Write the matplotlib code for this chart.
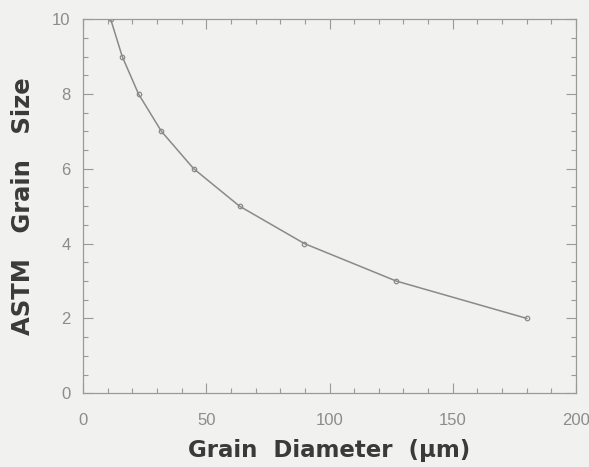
import matplotlib
matplotlib.use("Agg")
import matplotlib.pyplot as plt
from matplotlib.ticker import MultipleLocator

diameter_um = [11.2, 15.9, 22.5, 31.8, 44.9, 63.5, 89.8, 127.0, 180.0]
astm_size = [10, 9, 8, 7, 6, 5, 4, 3, 2]
x_ticks = [0, 50, 100, 150, 200]
y_ticks = [0, 2, 4, 6, 8, 10]

plt.rcParams['font.family'] = ['Liberation Sans', 'DejaVu Sans']
bg = '#f1f1f0'
fig = plt.figure(figsize=(5.89, 4.67), dpi=100, facecolor=bg)
ax = fig.add_axes([0.141, 0.158, 0.837, 0.801], facecolor=bg)

ax.plot(diameter_um, astm_size, color='#8a8a8a', lw=1.1, marker='o', ms=3.2,
        mfc='none', mec='#8a8a8a', mew=0.9)

ax.set_xlim(0, 200)
ax.set_ylim(0, 10)
ax.set_xticks(x_ticks)
ax.set_yticks(y_ticks)
ax.xaxis.set_minor_locator(MultipleLocator(10))
ax.yaxis.set_minor_locator(MultipleLocator(0.5))
ax.tick_params(which='both', direction='in', top=True, right=True, color='#999999',
               width=0.8)
ax.tick_params(which='major', length=7, labelsize=12, labelcolor='#8c8c8c')
ax.tick_params(axis='x', which='major', pad=14)
ax.tick_params(axis='y', which='major', pad=9)
ax.tick_params(which='minor', length=3.5)
for s in ax.spines.values():
    s.set_color('#9a9a9a')
    s.set_linewidth(0.9)

ax.set_xlabel('Grain  Diameter  (\u00b5m)', fontsize=16.5, fontweight='bold',
              color='#3a3a3a', labelpad=8, family='DejaVu Sans')
ax.set_ylabel('ASTM   Grain   Size', fontsize=17.5, fontweight='bold',
              color='#3a3a3a', labelpad=12, family='DejaVu Sans')

fig.savefig('out.png', dpi=100, facecolor=bg)
